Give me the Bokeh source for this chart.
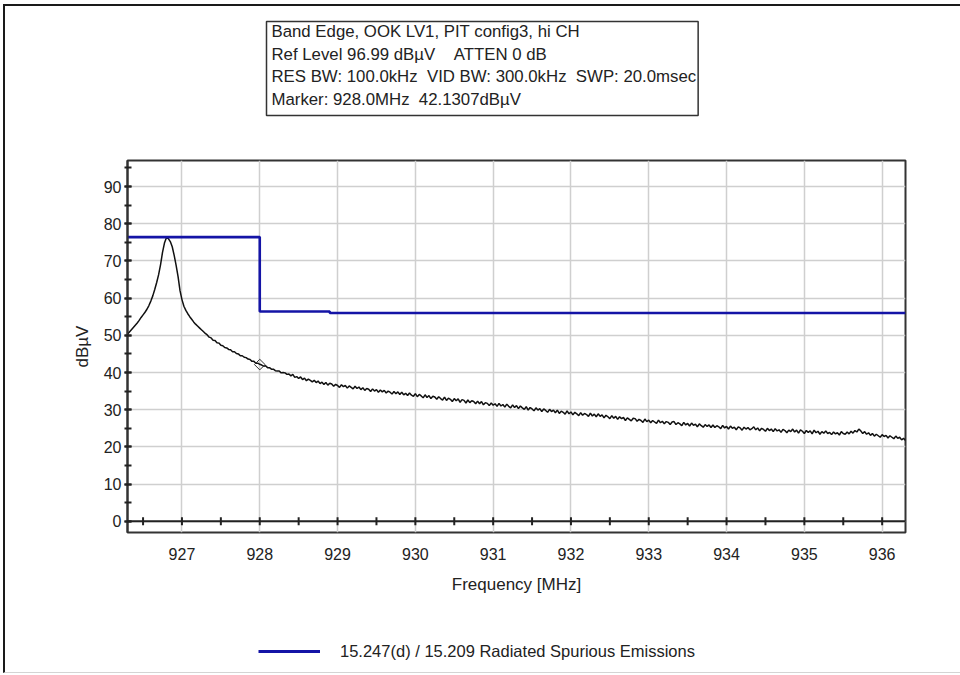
import numpy as np
from bokeh.plotting import figure
from bokeh.layouts import column
from bokeh.models import (Range1d, LinearAxis, SingleIntervalTicker, Grid, Title, Span,
                          Legend, LegendItem, InlineStyleSheet)
from bokeh.embed import file_html
from bokeh.resources import INLINE

FONT = "Liberation Sans"
TEXT = "#222222"
NBSP = "\u00a0"
LIMIT_COLOR = "#1414a6"

# Sweep settings (MHz)
sweep_start = 926.3
sweep_stop = 936.3

# Measured trace, dBuV, one value per sweep point
trace_level = [
    50.3, 50.9, 51.5, 52.1, 52.7, 53.3, 54.0, 54.8, 55.5, 56.2,
    57.0, 58.0, 59.2, 60.6, 62.3, 64.2, 66.3, 69.0, 72.3, 74.8,
    76.2, 76.0, 75.2, 73.8, 71.5, 68.8, 65.8, 62.0, 59.6, 57.8,
    56.7, 55.8, 55.0, 54.3, 53.6, 53.0, 52.5, 52.0, 51.5, 51.0,
    50.5, 50.1, 49.5, 49.3, 48.7, 48.6, 48.0, 47.9, 47.3, 47.2,
    46.7, 46.6, 46.2, 46.1, 45.6, 45.6, 45.1, 45.0, 44.5, 44.5,
    44.1, 44.0, 43.6, 43.5, 43.0, 43.0, 42.5, 42.5, 42.2,
    42.0, 41.7, 41.8, 41.3, 41.3, 40.9, 40.9, 40.5, 40.4, 40.4, 39.9, 40.0,
    39.9, 39.5, 39.6, 39.1, 39.5, 38.7, 38.9, 38.4, 38.8, 38.1,
    38.5, 37.8, 38.2, 37.9, 37.5, 37.9, 37.3, 37.7, 37.0, 37.4,
    36.8, 37.3, 36.6, 37.1, 36.9, 36.3, 36.8, 36.5, 36.0, 36.7,
    36.2, 36.5, 35.8, 36.4, 36.0, 35.6, 36.3, 35.7, 36.1, 35.4,
    35.9, 35.2, 35.7, 35.5, 34.9, 35.6, 35.0, 35.4, 34.7, 35.3,
    34.8, 35.2, 34.5, 35.0, 34.7, 34.2, 34.9, 34.3, 34.8, 34.1,
    34.7, 34.0, 34.4, 33.8, 34.5, 33.9, 33.6, 34.3, 33.5, 34.1,
    33.7, 33.2, 34.0, 33.3, 33.8, 33.0, 33.6, 33.4, 32.8, 33.5,
    33.0, 32.6, 33.4, 32.5, 33.1, 32.8, 32.2, 33.0, 32.4, 32.9,
    32.0, 32.7, 32.5, 31.8, 32.6, 31.9, 32.4, 32.2, 31.6, 32.3,
    31.6, 32.2, 31.3, 31.9, 31.7, 31.1, 31.8, 31.2, 31.6, 30.9,
    31.7, 31.0, 31.4, 30.7, 31.5, 30.9, 30.5, 31.3, 30.6, 31.1,
    30.3, 31.0, 30.5, 30.1, 30.8, 29.9, 30.6, 30.2, 29.7, 30.5,
    29.9, 30.3, 29.5, 30.2, 29.8, 29.3, 30.1, 29.5, 29.9, 29.2,
    29.9, 29.0, 29.6, 29.3, 28.8, 29.7, 28.9, 29.4, 28.6, 29.3,
    28.9, 28.4, 29.2, 28.5, 29.0, 28.7, 28.2, 29.1, 28.3, 28.8,
    28.1, 28.9, 28.2, 28.6, 27.8, 28.5, 28.1, 27.6, 28.4, 27.7,
    28.2, 27.4, 28.1, 27.6, 27.9, 27.1, 27.8, 27.4, 27.0, 27.7,
    27.6, 26.9, 27.4, 27.1, 26.6, 27.5, 26.8, 27.2, 26.5, 27.1,
    26.7, 26.3, 27.2, 26.5, 26.9, 26.2, 26.8, 26.6, 26.0, 26.7,
    26.8, 26.0, 26.5, 26.2, 25.7, 26.6, 25.9, 26.3, 25.6, 26.4,
    25.8, 26.1, 25.4, 26.2, 25.7, 25.3, 26.0, 25.5, 25.9, 25.2,
    25.9, 25.2, 25.7, 25.4, 24.9, 25.8, 25.1, 25.5, 24.8, 25.6,
    25.0, 25.3, 24.6, 25.4, 25.1, 24.5, 25.3, 24.8, 25.2, 24.6,
    24.9, 25.4, 24.6, 25.1, 24.3, 25.0, 24.7, 24.2, 25.0, 24.4,
    24.8, 24.1, 24.9, 24.3, 24.6, 23.9, 24.7, 24.4, 23.8, 24.5,
    24.1, 24.8, 24.0, 24.5, 23.7, 24.6, 24.2, 23.6, 24.4, 23.9,
    24.3, 23.5, 24.5, 23.8, 24.2, 23.4, 24.1, 23.7, 24.3, 23.6,
    23.9, 23.3, 24.0, 23.5, 23.8, 23.2, 24.1, 23.6, 23.4, 24.0,
    23.5, 24.2, 23.7, 24.4, 24.0, 24.8, 24.3, 23.6, 24.1, 23.4,
    23.8, 23.1, 23.6, 22.9, 23.4, 23.0, 22.6, 23.3, 22.8, 23.1,
    22.4, 23.0, 22.6, 22.2, 22.9, 22.3, 22.6, 21.9, 22.3, 21.7,
]
trace_freq = np.linspace(sweep_start, sweep_stop, len(trace_level))

# Limit line: 15.247(d) -20 dBc below the in-band peak, then 15.209
limit_freq = [926.3, 928.0, 928.0, 928.9, 928.9, 936.3]
limit_level = [76.4, 76.4, 56.4, 56.4, 56.0, 56.0]

# Marker readout
marker_freq = 928.0
marker_level = 42.1307

# Half-MHz tick marks carried by the 0 dBuV line
zero_ticks = [926.5, 927.0, 927.5, 928.0, 928.5, 929.0, 929.5, 930.0, 930.5,
              931.0, 931.5, 932.0, 932.5, 933.0, 933.5, 934.0, 934.5, 935.0,
              935.5, 936.0]

info_lines = [
    "Band Edge, OOK LV1, PIT config3, hi CH",
    f"Ref Level 96.99 dB\u00b5V{NBSP * 4}ATTEN 0 dB",
    f"RES BW: 100.0kHz{NBSP * 2}VID BW: 300.0kHz{NBSP * 2}SWP: 20.0msec",
    f"Marker: {marker_freq:.1f}MHz{NBSP * 2}{marker_level:.4f}dB\u00b5V",
]
legend_label = "15.247(d) / 15.209 Radiated Spurious Emissions"

# Window frame drawn around the page (left/top dark, bottom light)
frame_css = InlineStyleSheet(css="""
:host { position: relative; }
:host::after {
  content: "";
  position: absolute;
  left: 3px; top: 4px; right: -20px; bottom: 2px;
  border-left: 2px solid #1a1a1a;
  border-top: 2px solid #1a1a1a;
  border-bottom: 1px solid #d4d4d4;
  pointer-events: none;
}
""")

p = figure(width=960, height=630, output_backend="svg", toolbar_location=None,
           x_range=Range1d(sweep_start, sweep_stop), y_range=Range1d(-3.01, 96.99),
           x_axis_type=None, y_axis_type=None,
           min_border_left=127, min_border_right=55,
           min_border_top=160, min_border_bottom=98)
p.background_fill_color = "white"
p.border_fill_color = "white"
p.outline_line_color = "#333333"
p.outline_line_width = 2

# Grid
p.add_layout(Grid(dimension=0, ticker=SingleIntervalTicker(interval=1),
                  grid_line_color="#cfcfcf", grid_line_width=1.5))
p.add_layout(Grid(dimension=1, ticker=SingleIntervalTicker(interval=10),
                  grid_line_color="#cfcfcf", grid_line_width=1.5))

# Frequency labels under the frame
xaxis = LinearAxis(ticker=SingleIntervalTicker(interval=1, num_minor_ticks=0),
                   axis_label="Frequency [MHz]",
                   axis_line_color=None, major_tick_line_color=None,
                   minor_tick_line_color=None,
                   major_tick_in=0, major_tick_out=0,
                   major_label_standoff=15, axis_label_standoff=12,
                   major_label_text_font=FONT, major_label_text_font_size="16px",
                   major_label_text_color=TEXT,
                   axis_label_text_font=FONT, axis_label_text_font_size="17px",
                   axis_label_text_font_style="normal", axis_label_text_color=TEXT)
p.add_layout(xaxis, "below")

yaxis = LinearAxis(ticker=SingleIntervalTicker(interval=10, num_minor_ticks=2),
                   axis_label="dB\u00b5V",
                   axis_line_color="#333333", axis_line_width=2,
                   major_tick_line_color="#222222", major_tick_line_width=2,
                   minor_tick_line_color="#222222", minor_tick_line_width=2,
                   major_tick_in=4, major_tick_out=3,
                   minor_tick_in=4, minor_tick_out=3,
                   major_label_standoff=3, axis_label_standoff=9,
                   major_label_text_font=FONT, major_label_text_font_size="16px",
                   major_label_text_color=TEXT,
                   axis_label_text_font=FONT, axis_label_text_font_size="17px",
                   axis_label_text_font_style="normal", axis_label_text_color=TEXT)
p.add_layout(yaxis, "left")

# 0 dBuV line with its tick marks
p.add_layout(Span(location=0, dimension="width", line_color="#222222", line_width=2))
p.scatter(zero_ticks, [0] * len(zero_ticks), marker="dash", angle=np.pi / 2, size=8,
          line_color="#222222", line_width=2)

# Trace, limit and marker
p.line(trace_freq, trace_level, line_color="#111111", line_width=1.5)
p.line(limit_freq, limit_level, line_color=LIMIT_COLOR, line_width=2.6)
p.scatter([marker_freq], [marker_level], marker="square", angle=np.pi / 4, size=7.5,
          fill_alpha=0, line_color="#333333", line_width=1)

# Settings box above the chart, lifted off the frame by an empty spacer title
p.add_layout(Title(text=NBSP, text_font_size="1px", standoff=41), "above")
info = Title(text="\n".join(info_lines), align="left", offset=139, standoff=2,
             text_font=FONT, text_font_size="16.8px", text_font_style="normal",
             text_color=TEXT, text_line_height=1.21,
             border_line_color="#333333", border_line_width=1.5,
             background_fill_color="white", padding=(5, 2, 0, 6))
p.add_layout(info, "above")

# Legend strip under the chart; its frame lines up with the chart frame.
# The key line holds the limit data, which lies outside this strip's ranges.
lg = figure(width=960, height=45, output_backend="svg", toolbar_location=None,
            x_range=Range1d(0, 1), y_range=Range1d(0, 1),
            x_axis_type=None, y_axis_type=None,
            min_border_left=0, min_border_right=0, min_border_top=0, min_border_bottom=0)
lg.outline_line_color = None
lg.background_fill_color = "white"
lg.border_fill_color = "white"
limit_key = lg.line(limit_freq, limit_level, line_color=LIMIT_COLOR, line_width=2.8)
legend = Legend(items=[LegendItem(label=legend_label, renderers=[limit_key])],
                location=(131, 14), orientation="horizontal",
                glyph_width=62, glyph_height=20, label_standoff=20,
                padding=0, margin=0, border_line_color=None,
                background_fill_alpha=0,
                label_text_font=FONT, label_text_font_size="16.5px",
                label_text_color=TEXT)
lg.add_layout(legend)

page = column(p, lg, spacing=0, stylesheets=[frame_css])

open("out.html", "w").write(file_html(page, INLINE))
